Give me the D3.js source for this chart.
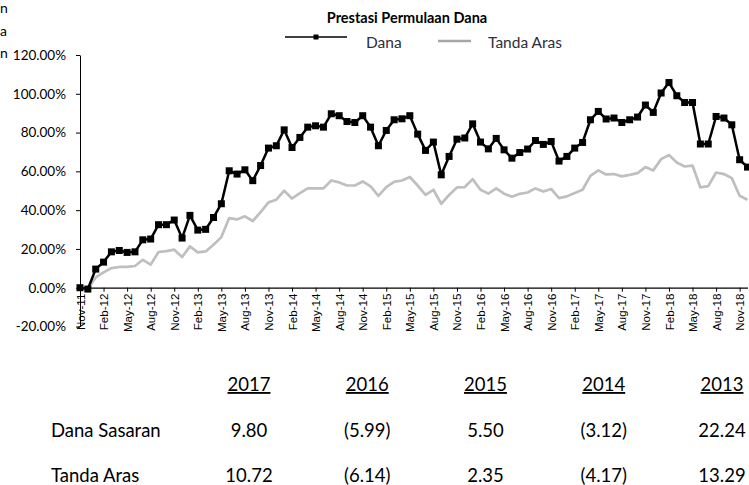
<!DOCTYPE html>
<html>
<head>
<meta charset="utf-8">
<script src="https://cdn.jsdelivr.net/npm/d3@7"></script>
<style>
  body { margin: 0; background: #fff; }
  svg { display: block; }
</style>
</head>
<body>
<svg id="chart"></svg>
<script>
// monthly returns since Nov-11 (%)
const dana = [0, -0.7, 9.6, 13.2, 18.5, 19.2, 18.2, 18.5, 24.7, 25.1,
  32.5, 32.5, 34.9, 25.6, 37.3, 29.7, 30.1, 36.2, 43.3, 60.3,
  58.6, 60.8, 55.2, 63.0, 72.0, 73.2, 81.4, 72.3, 77.5, 82.8,
  83.5, 82.8, 89.7, 88.7, 85.7, 85.2, 88.7, 82.8, 73.2, 81.1,
  86.6, 87.1, 88.7, 79.2, 70.8, 75.1, 58.2, 67.7, 76.6, 77.2,
  84.5, 75.1, 71.6, 77.0, 71.1, 66.8, 69.7, 71.5, 75.9, 73.9,
  75.4, 65.3, 67.7, 72.0, 74.9, 86.6, 90.9, 87.0, 87.5, 85.2,
  86.6, 88.0, 94.2, 90.4, 100.4, 105.8, 99.0, 95.5, 95.5, 74.1,
  74.1, 88.3, 87.5, 84.0, 66.0, 62.2];

const tandaAras = [0, -0.5, 5.3, 7.9, 10.1, 10.7, 10.7, 11.2, 14.4, 11.9,
  18.4, 18.9, 19.6, 15.8, 21.3, 18.2, 18.7, 22.2, 26.1, 35.9,
  35.2, 36.8, 34.4, 39.0, 44.0, 45.4, 50.0, 46.0, 48.8, 51.2,
  51.2, 51.2, 55.3, 54.3, 52.7, 52.7, 54.8, 52.2, 47.4, 51.9,
  54.6, 55.3, 57.1, 52.7, 47.9, 50.5, 43.3, 47.8, 51.7, 51.9,
  56.0, 50.5, 48.5, 51.2, 48.5, 46.9, 48.4, 49.1, 51.2, 49.6,
  50.9, 46.2, 47.1, 48.8, 50.5, 57.7, 60.5, 58.4, 58.6, 57.4,
  58.2, 59.1, 62.2, 60.5, 66.3, 68.4, 64.6, 62.5, 63.0, 51.7,
  52.4, 59.4, 58.6, 56.5, 47.4, 45.4];

const tickLabels = ["Nov-11", "Feb-12", "May-12", "Aug-12", "Nov-12", "Feb-13", "May-13",
  "Aug-13", "Nov-13", "Feb-14", "May-14", "Aug-14", "Nov-14", "Feb-15", "May-15",
  "Aug-15", "Nov-15", "Feb-16", "May-16", "Aug-16", "Nov-16", "Feb-17", "May-17",
  "Aug-17", "Nov-17", "Feb-18", "May-18", "Aug-18", "Nov-18"];

const yTicks = [-20, 0, 20, 40, 60, 80, 100, 120];

// yearly table
const years = ["2017", "2016", "2015", "2014", "2013"];
const rowNames = ["Dana Sasaran", "Tanda Aras"];
const danaSasaranRow = ["9.80", "(5.99)", "5.50", "(3.12)", "22.24"];
const tandaArasRow = ["10.72", "(6.14)", "2.35", "(4.17)", "13.29"];

const width = 749, height = 485;
const svg = d3.select("#chart").attr("width", width).attr("height", height);

const x = d3.scaleLinear().domain([0, dana.length - 1]).range([80, 747.5]);
const y = d3.scaleLinear().domain([-20, 120]).range([326.5, 55]);

// stray letters on the left edge
svg.append("g")
  .selectAll("text")
  .data(["n", "a", "n"])
  .enter()
  .append("text")
  .attr("x", 0)
  .attr("y", (d, i) => 13 + i * 22.5)
  .style("font-family", "Lato, sans-serif")
  .style("font-size", "14px")
  .text(d => d);

// title
svg.append("text")
  .attr("x", 407)
  .attr("y", 23)
  .attr("text-anchor", "middle")
  .style("font-family", "Lato, sans-serif")
  .style("font-weight", "bold")
  .style("font-size", "14.5px")
  .text("Prestasi Permulaan Dana");

// legend
const legend = svg.append("g");
legend.append("line")
  .attr("x1", 285).attr("x2", 347).attr("y1", 37).attr("y2", 37)
  .attr("stroke", "#000").attr("stroke-width", 1.5);
legend.append("rect")
  .attr("x", 313.5).attr("y", 34.5).attr("width", 5).attr("height", 5)
  .attr("fill", "#000");
legend.append("text")
  .attr("x", 366).attr("y", 48)
  .style("font-family", "Lato, sans-serif").style("font-size", "15.5px")
  .attr("fill", "#2b2f3a")
  .text("Dana");
legend.append("line")
  .attr("x1", 438).attr("x2", 471).attr("y1", 41).attr("y2", 41)
  .attr("stroke", "#a6a6a6").attr("stroke-width", 2.5);
legend.append("text")
  .attr("x", 488).attr("y", 48)
  .style("font-family", "Lato, sans-serif").style("font-size", "15.5px")
  .attr("fill", "#2b2f3a")
  .text("Tanda Aras");

// y axis
const yAxis = svg.append("g")
  .attr("transform", "translate(80,0)")
  .call(d3.axisLeft(y).tickValues(yTicks).tickSize(4).tickSizeOuter(0)
    .tickFormat(d => d.toFixed(2) + "%"));
yAxis.select(".domain").attr("stroke", "#000").attr("stroke-width", 1);
yAxis.selectAll(".tick line").attr("stroke", "#000");
yAxis.selectAll("text")
  .attr("x", -14)
  .style("font-family", "Lato, sans-serif")
  .style("font-size", "13.5px")
  .attr("fill", "#000");

// x axis at 0%
const xAxis = svg.append("g")
  .attr("transform", `translate(0,${y(0)})`)
  .call(d3.axisBottom(x).tickValues(d3.range(0, tickLabels.length * 3, 3))
    .tickSize(4).tickSizeOuter(0)
    .tickFormat((d, i) => tickLabels[i]));
xAxis.select(".domain").attr("stroke", "#000").attr("stroke-width", 1.2);
xAxis.selectAll(".tick line").attr("stroke", "#000");
xAxis.selectAll("text")
  .attr("transform", "rotate(-90)")
  .attr("text-anchor", "end")
  .attr("x", -6)
  .attr("y", 0)
  .attr("dy", "0.35em")
  .style("font-family", "'Liberation Sans', Arial, sans-serif")
  .style("font-size", "11.5px")
  .attr("fill", "#000");

// lines
const line = d3.line()
  .x((d, i) => x(i))
  .y(d => y(d));

svg.append("path")
  .datum(tandaAras)
  .attr("d", line)
  .attr("fill", "none")
  .attr("stroke", "#bfbfbf")
  .attr("stroke-width", 2.7)
  .attr("stroke-linejoin", "round");

svg.append("path")
  .datum(dana)
  .attr("d", line)
  .attr("fill", "none")
  .attr("stroke", "#000")
  .attr("stroke-width", 2.5)
  .attr("stroke-linejoin", "round");

svg.append("g")
  .selectAll("rect")
  .data(dana)
  .enter()
  .append("rect")
  .attr("x", (d, i) => x(i) - 3.5)
  .attr("y", d => y(d) - 3.5)
  .attr("width", 7)
  .attr("height", 7)
  .attr("fill", "#000");

// table below the chart
const col = d3.scalePoint().domain(years).range([249, 722]);
const table = svg.append("g")
  .style("font-family", "Lato, sans-serif")
  .style("font-size", "18.5px")
  .attr("fill", "#000");

table.selectAll(".year")
  .data(years)
  .enter()
  .append("text")
  .attr("class", "year")
  .attr("x", d => col(d))
  .attr("y", 391)
  .attr("text-anchor", "middle")
  .style("text-decoration", "underline")
  .text(d => d);

const rows = [danaSasaranRow, tandaArasRow];
const rowY = d3.scalePoint().domain(rowNames).range([437, 482]);

rowNames.forEach((name, r) => {
  table.append("text")
    .attr("x", 51)
    .attr("y", rowY(name))
    .text(name);
  table.selectAll(".v" + r)
    .data(rows[r])
    .enter()
    .append("text")
    .attr("class", "v" + r)
    .attr("x", (d, i) => col(years[i]))
    .attr("y", rowY(name))
    .attr("text-anchor", "middle")
    .text(d => d);
});
</script>
</body>
</html>
